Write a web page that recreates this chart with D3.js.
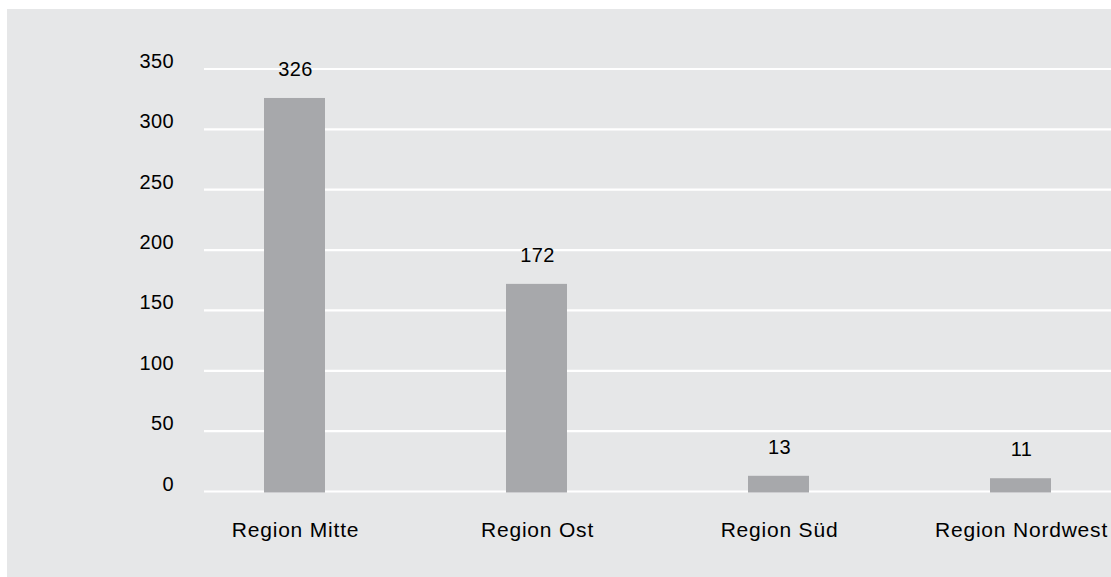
<!DOCTYPE html>
<html>
<head>
<meta charset="utf-8">
<script src="https://cdn.jsdelivr.net/npm/d3@7"></script>
<style>
  html, body { margin: 0; padding: 0; background: #ffffff; }
  svg { display: block; }
  text { font-family: "Liberation Sans", Arial, Helvetica, sans-serif; fill: #000000; }
</style>
</head>
<body>
<svg id="chart" width="1111" height="577"></svg>
<script>
const categories = ["Region Mitte", "Region Ost", "Region Süd", "Region Nordwest"];
const values = [326, 172, 13, 11];
const yTicks = [0, 50, 100, 150, 200, 250, 300, 350];

const svg = d3.select("#chart");
const W = 1111, H = 577;

svg.append("rect")
  .attr("x", 7).attr("y", 9)
  .attr("width", W - 7).attr("height", H - 9)
  .attr("fill", "#e6e7e8");

const y = d3.scaleLinear().domain([0, 350]).range([491.5, 69]);
const x = d3.scaleBand().domain(categories)
  .range([173.5, 1141.5]).paddingInner(0.748).paddingOuter(0.374);

const gridLeft = 204, gridRight = W;

// gridlines
svg.append("g").selectAll("line").data(yTicks).join("line")
  .attr("x1", gridLeft).attr("x2", gridRight)
  .attr("y1", d => y(d)).attr("y2", d => y(d))
  .attr("stroke", "#ffffff").attr("stroke-width", 2.2);

// y tick labels
svg.append("g").selectAll("text").data(yTicks).join("text")
  .attr("x", 174).attr("y", d => y(d) - 1)
  .attr("text-anchor", "end")
  .attr("font-size", 20).attr("letter-spacing", "0.4px")
  .text(d => d);

// bars
const data = categories.map((c, i) => ({ c, v: values[i] }));
svg.append("g").selectAll("rect").data(data).join("rect")
  .attr("x", d => x(d.c)).attr("width", x.bandwidth())
  .attr("y", d => y(d.v)).attr("height", d => y(0) - y(d.v) + 1)
  .attr("fill", "#a7a8ab");

// value labels
svg.append("g").selectAll("text").data(data).join("text")
  .attr("x", d => x(d.c) + x.bandwidth() / 2 + 1)
  .attr("y", d => y(d.v) - 22)
  .attr("text-anchor", "middle")
  .attr("font-size", 20).attr("letter-spacing", "0.4px")
  .text(d => d.v);

// category labels
svg.append("g").selectAll("text").data(categories).join("text")
  .attr("x", d => x(d) + x.bandwidth() / 2 + 1)
  .attr("y", 537)
  .attr("text-anchor", "middle")
  .attr("font-size", 21).attr("letter-spacing", "0.8px")
  .text(d => d);
</script>
</body>
</html>
